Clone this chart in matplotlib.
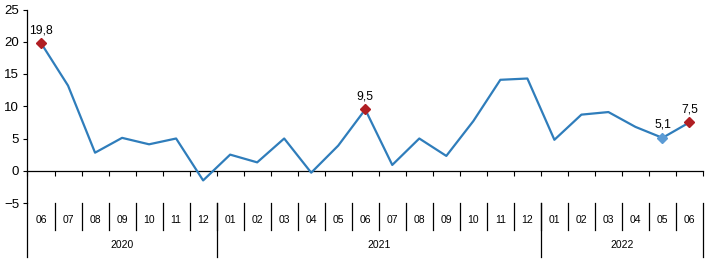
import matplotlib
matplotlib.use("Agg")
import matplotlib.pyplot as plt
from matplotlib.lines import Line2D

plt.rcParams['font.family'] = ['Liberation Sans', 'DejaVu Sans']

months = ["06", "07", "08", "09", "10", "11", "12",
          "01", "02", "03", "04", "05", "06", "07", "08", "09", "10", "11", "12",
          "01", "02", "03", "04", "05", "06"]
years = ["2020", "2021", "2022"]
year_counts = [7, 12, 6]
values = [19.8, 13.2, 2.8, 5.1, 4.1, 5.0, -1.5,
          2.5, 1.3, 5.0, -0.3, 3.9, 9.5, 0.9, 5.0, 2.3, 7.7, 14.1, 14.3,
          4.8, 8.7, 9.1, 6.8, 5.1, 7.5]
labelled_red = [0, 12, 24]
labelled_blue = [23]
yticks = [-5, 0, 5, 10, 15, 20, 25]

W, H = 710, 265
fig = plt.figure(figsize=(W / 100, H / 100), dpi=100)
left, right, top, bottom = 27.5, 703, 9.5, 203
ax = fig.add_axes([left / W, 1 - bottom / H, (right - left) / W, (bottom - top) / H])

n = len(values)
xs = [i + 0.5 for i in range(n)]
line_color = '#2F7DBB'
ax.plot(xs, values, color=line_color, lw=1.6, zorder=3)
red = '#B01E23'
ax.plot([xs[i] for i in labelled_red], [values[i] for i in labelled_red], 'D',
        color=red, ms=5, zorder=4)
ax.plot([xs[i] for i in labelled_blue], [values[i] for i in labelled_blue], 'D',
        color='#5B9BD5', ms=5, zorder=4)
for i in labelled_red + labelled_blue:
    ax.annotate(f"{values[i]:.1f}".replace('.', ','), (xs[i], values[i]),
                xytext=(0, 5), textcoords='offset points', ha='center', va='bottom',
                fontsize=8.8, color='black')

ax.set_xlim(0, n)
ax.set_ylim(-5, 25)
ax.set_yticks(yticks)
ax.tick_params(axis='y', length=3, width=0.8, labelsize=9.5, pad=3, direction='out')
ax.set_xticks(range(n + 1))
ax.set_xticklabels([])
ax.tick_params(axis='x', length=3.5, width=0.8, direction='out')
for s in ['top', 'right']:
    ax.spines[s].set_visible(False)
ax.spines['bottom'].set_position(('data', 0))
ax.spines['bottom'].set_linewidth(0.9)
ax.spines['left'].set_linewidth(0.9)

# px -> data value
def py(p):
    return (171 - p) / 6.45

# extended left spine
ax.add_line(Line2D([0, 0], [py(257), -5], color='black', lw=0.9, clip_on=False))

# month labels and separators
for i, m in enumerate(months):
    ax.text(i + 0.5, py(220), m, ha='center', va='center', fontsize=7.5, clip_on=False)
for i in range(1, n):
    ax.add_line(Line2D([i, i], [py(203), py(230)], color='black', lw=0.9, clip_on=False))

# year labels and separators
start = 0
bounds = [0]
for y, c in zip(years, year_counts):
    ax.text(start + c / 2, py(245.5), y, ha='center', va='center', fontsize=7.5, clip_on=False)
    start += c
    bounds.append(start)
for b in bounds[1:]:
    ax.add_line(Line2D([b, b], [py(203), py(257)], color='black', lw=0.9, clip_on=False))

fig.savefig('out.png', dpi=100)
